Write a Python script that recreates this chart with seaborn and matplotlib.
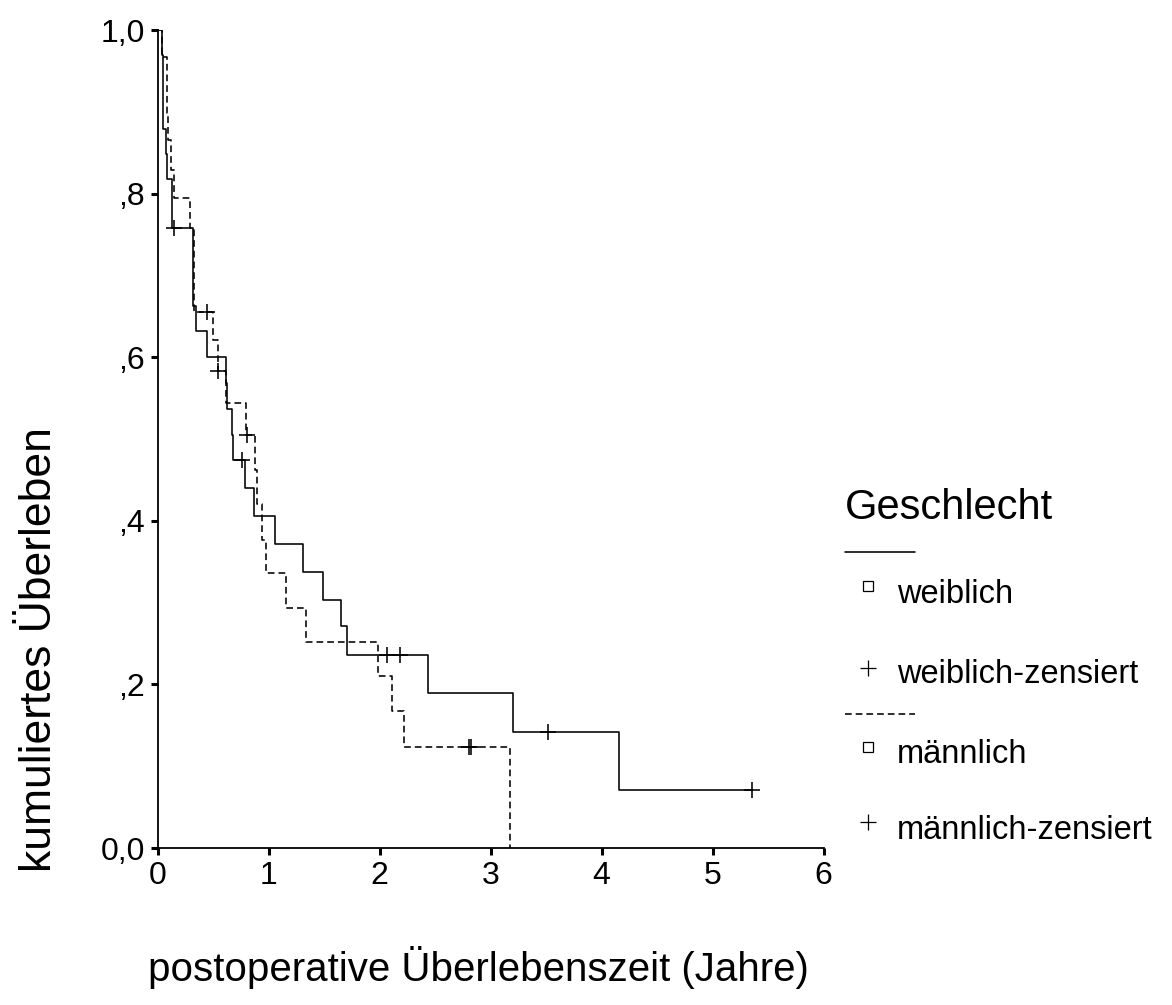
import matplotlib
matplotlib.use("Agg")
import matplotlib.pyplot as plt
import seaborn as sns
import pandas as pd
from matplotlib.lines import Line2D

sns.set_theme(style="white")
plt.rcParams['font.family'] = ['Liberation Sans', 'DejaVu Sans']
plt.rcParams['text.color'] = 'black'

# ---- data ----
# weiblich (solid): event times (years) and survival after each step
w_time = [0.038, 0.054, 0.081, 0.088, 0.128, 0.135, 0.323, 0.344, 0.449, 0.617, 0.628,
          0.674, 0.683, 0.788, 0.869, 1.063, 1.314, 1.495, 1.653, 1.710, 2.440, 3.205, 4.160]
w_surv = [0.970, 0.879, 0.848, 0.818, 0.788, 0.758, 0.663, 0.632, 0.600, 0.568, 0.537,
          0.505, 0.474, 0.440, 0.406, 0.372, 0.337, 0.303, 0.271, 0.236, 0.189, 0.142, 0.071]
w_cens_time = [0.149, 0.759, 2.070, 2.185, 3.515, 5.353]
w_cens_surv = [0.758, 0.474, 0.236, 0.236, 0.142, 0.071]

# männlich (dashed)
m_time = [0.038, 0.082, 0.097, 0.122, 0.150, 0.293, 0.325, 0.503, 0.545, 0.617, 0.800,
          0.878, 0.894, 0.937, 0.977, 1.155, 1.338, 1.989, 2.115, 2.223, 3.176]
m_surv = [0.967, 0.899, 0.866, 0.829, 0.795, 0.758, 0.655, 0.621, 0.583, 0.544, 0.505,
          0.462, 0.421, 0.377, 0.336, 0.293, 0.252, 0.210, 0.168, 0.124, 0.000]
m_cens_time = [0.449, 0.548, 0.808, 2.806, 2.824]
m_cens_surv = [0.655, 0.583, 0.505, 0.124, 0.124]

x_ticks = [0, 1, 2, 3, 4, 5, 6]
x_ticklabels = ["0", "1", "2", "3", "4", "5", "6"]
y_ticks = [0.0, 0.2, 0.4, 0.6, 0.8, 1.0]
y_ticklabels = ["0,0", ",2", ",4", ",6", ",8", "1,0"]

legend_title = "Geschlecht"
legend_labels = ["weiblich", "weiblich-zensiert", "männlich", "männlich-zensiert"]
xlabel = "postoperative Überlebenszeit (Jahre)"
ylabel = "kumuliertes Überleben"

W, H = 1172, 1005
fig = plt.figure(figsize=(W / 100, H / 100), dpi=100)
fig.patch.set_facecolor("white")
ax = fig.add_axes([157.5 / W, 1 - 848 / H, 666 / W, 818 / H])
ax.set_facecolor("white")


def step_frame(times, surv, end_time=None):
    xs = [0.0] + list(times)
    ys = [1.0] + list(surv)
    if end_time is not None and end_time > xs[-1]:
        xs.append(end_time)
        ys.append(ys[-1])
    return pd.DataFrame({"t": xs, "s": ys})


lw = 1.15
dash = (0, (4.2, 2.5))
df_w = step_frame(w_time, w_surv, max(w_cens_time))
df_m = step_frame(m_time, m_surv)

sns.lineplot(data=df_w, x="t", y="s", ax=ax, color="black", lw=lw,
             drawstyle="steps-post", estimator=None, sort=False)
sns.lineplot(data=df_m, x="t", y="s", ax=ax, color="black", lw=lw,
             drawstyle="steps-post", estimator=None, sort=False,
             dashes=False, linestyle=dash)

sns.scatterplot(x=w_cens_time, y=w_cens_surv, ax=ax, marker="+", s=130,
                color="black", linewidth=1.15, zorder=5)
sns.scatterplot(x=m_cens_time, y=m_cens_surv, ax=ax, marker="+", s=130,
                color="black", linewidth=1.15, zorder=5)

ax.set_xlim(0, 6)
ax.set_ylim(0, 1)
ax.set_xticks(x_ticks)
ax.set_xticklabels(x_ticklabels)
ax.set_yticks(y_ticks)
ax.set_yticklabels(y_ticklabels)
ax.set_xlabel("")
ax.set_ylabel("")
for side in ["top", "right"]:
    ax.spines[side].set_visible(False)
for side in ["left", "bottom"]:
    ax.spines[side].set_color("black")
    ax.spines[side].set_linewidth(1.3)
ax.tick_params(axis="both", which="major", direction="out", length=5, width=2.2,
               color="black", labelsize=23, labelcolor="black", pad=4,
               left=True, bottom=True)
ax.grid(False)

# axis titles
fig.text(478 / W, 1 - 967 / H, xlabel, ha="center", va="center", fontsize=29, color="black")
fig.text(40 / W, 1 - 650 / H, ylabel, ha="center", va="center", rotation=90,
         fontsize=32, color="black")


# legend (figure coordinates)
def fx(px):
    return px / W


def fy(py):
    return 1 - py / H


fig.text(fx(845), fy(519), legend_title, fontsize=30, va="baseline", ha="left", color="black")
fig.add_artist(Line2D([fx(845), fx(915)], [fy(552), fy(552)], color="black", lw=lw,
                      transform=fig.transFigure))
fig.add_artist(Line2D([fx(845), fx(915)], [fy(714), fy(714)], color="black", lw=lw,
                      linestyle=dash, transform=fig.transFigure))
entry_rows = [(586, 603, "s"), (668, 683, "+"), (747, 763, "s"), (822, 839, "+")]
for (my, by, mk), lab in zip(entry_rows, legend_labels):
    if mk == "s":
        fig.add_artist(Line2D([fx(868)], [fy(my)], marker="s", markersize=6.5,
                              markerfacecolor="white", markeredgecolor="black",
                              markeredgewidth=0.9, linestyle="none",
                              transform=fig.transFigure))
    else:
        fig.add_artist(Line2D([fx(868)], [fy(my)], marker="+", markersize=11,
                              markeredgecolor="black", markeredgewidth=0.9,
                              linestyle="none", transform=fig.transFigure))
    fig.text(fx(897), fy(by), lab, fontsize=23.5, va="baseline", ha="left", color="black")

fig.savefig("out.png", dpi=100, facecolor="white")
